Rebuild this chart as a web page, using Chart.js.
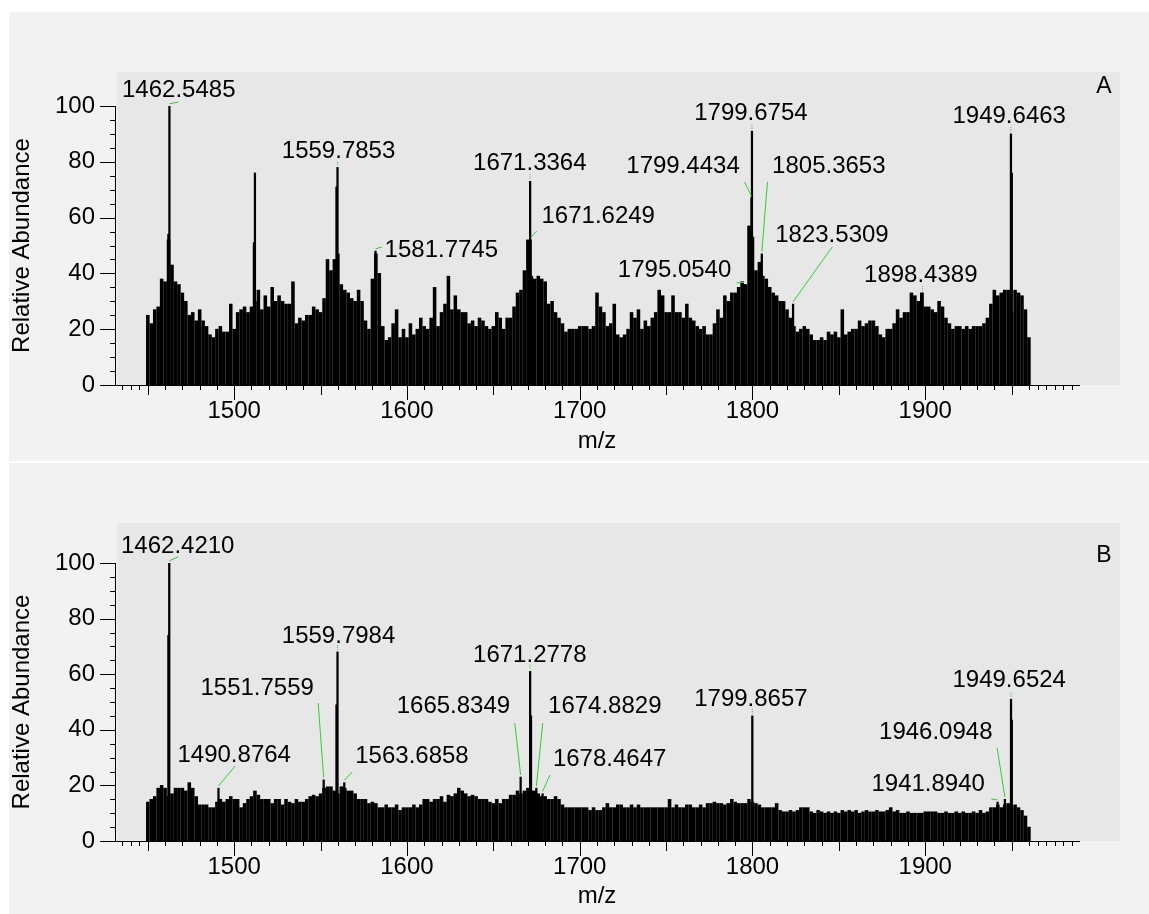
<!DOCTYPE html>
<html>
<head>
<meta charset="utf-8">
<title>Mass spectra A / B</title>
<script src="https://cdn.jsdelivr.net/npm/chart.js@4.4.1/dist/chart.umd.min.js"></script>
<style>
  html, body { margin: 0; padding: 0; background: #fff; }
  body { width: 1149px; height: 914px; position: relative; overflow: hidden; }
  .panel { position: absolute; left: 9px; width: 1140px; background: #f2f2f2; }
  #panelA { top: 12px; height: 449px; }
  #panelB { top: 463px; height: 451px; }
  canvas { display: block; }
</style>
</head>
<body>
<div class="panel" id="panelA"><canvas id="chartA" width="1140" height="449"></canvas></div>
<div class="panel" id="panelB"><canvas id="chartB" width="1140" height="451"></canvas></div>
<script>
// profile sticks: one value every MZ_STEP from MZ_START
const MZ_START = 1450;
const MZ_STEP = 2;
const X_MIN = 1431;
const X_MAX = 1989;
const xTickLabels = [1500, 1600, 1700, 1800, 1900];
const yTickLabels = [0, 20, 40, 60, 80, 100];

// Spectrum A
const profileA = [
  25, 22, 27, 28, 38, 37, 52, 43, 37, 36,
  33, 30, 25, 26, 23, 27, 23, 21, 18, 17,
  20, 21, 19, 19, 29, 20, 26, 27, 28, 26,
  28, 30, 34, 27, 32, 28, 35, 30, 32, 30,
  29, 29, 37, 22, 24, 23, 25, 25, 28, 27,
  26, 31, 45, 41, 45, 47, 36, 34, 33, 31,
  30, 34, 30, 23, 20, 38, 47, 40, 21, 16,
  17, 22, 27, 17, 20, 17, 22, 18, 20, 24,
  21, 20, 24, 35, 21, 26, 29, 39, 27, 32,
  27, 26, 26, 22, 23, 21, 24, 23, 21, 20,
  21, 26, 24, 20, 24, 24, 28, 33, 34, 41,
  52, 39, 38, 39, 38, 37, 29, 30, 26, 24,
  22, 19, 20, 20, 20, 21, 21, 21, 20, 21,
  33, 28, 26, 21, 22, 29, 18, 17, 18, 20,
  26, 24, 27, 20, 23, 21, 24, 26, 34, 32,
  26, 26, 32, 26, 26, 24, 29, 24, 23, 21,
  20, 21, 18, 18, 22, 27, 24, 32, 30, 33,
  33, 35, 37, 36, 57, 53, 41, 44, 39, 38,
  35, 33, 32, 30, 30, 27, 24, 21, 19, 20,
  21, 20, 18, 16, 16, 17, 16, 19, 18, 19,
  17, 27, 18, 19, 20, 20, 23, 21, 22, 23,
  23, 21, 18, 17, 20, 20, 22, 27, 24, 26,
  26, 33, 32, 30, 33, 28, 28, 27, 26, 30,
  28, 24, 22, 20, 21, 21, 20, 21, 20, 21,
  21, 21, 22, 24, 29, 34, 32, 33, 34, 34,
  26, 34, 33, 32, 27, 17
];
const peakMzA  = [1461.9, 1462.5, 1511.4, 1512.0, 1559.2, 1559.8, 1581.8, 1671.3, 1671.6,
                  1795.1, 1799.4, 1799.7, 1805.4, 1823.5, 1898.4, 1949.6, 1950.1];
const peakIntA = [54, 100, 51, 76, 71, 78, 48, 73, 52, 36, 67, 91, 47, 29, 33, 90, 76];
const labelsA = [
  ['1462.5485', 1462.5, 100], ['1559.7853', 1559.8, 78], ['1581.7745', 1581.8, 48],
  ['1671.3364', 1671.3, 73], ['1671.6249', 1671.6, 52], ['1795.0540', 1795.1, 36],
  ['1799.4434', 1799.4, 67], ['1799.6754', 1799.7, 91], ['1805.3653', 1805.4, 47],
  ['1823.5309', 1823.5, 29], ['1898.4389', 1898.4, 33], ['1949.6463', 1949.6, 90]
];

// Spectrum B
const profileB = [
  14, 15, 16, 19, 20, 19, 16, 17, 19, 19,
  19, 18, 21, 19, 16, 13, 13, 13, 12, 12,
  14, 15, 14, 15, 16, 15, 15, 12, 13.5, 15,
  16, 18, 16.5, 15, 15, 15, 13.5, 15, 15, 13,
  15, 14, 13.5, 15, 14, 14, 15, 16, 16.5, 16,
  17, 19, 19.5, 19.5, 18, 17, 19.5, 19, 18, 18,
  17, 15, 15, 15, 13.5, 14, 13.5, 12, 12, 13,
  12, 12, 13, 11, 12, 12, 12, 13, 12, 13,
  15, 15, 14, 15, 15, 16, 14, 16.5, 16, 17,
  19, 18, 17, 16, 16.5, 16, 15, 15, 15, 14,
  13.5, 15, 13.5, 15, 15, 16.5, 16.5, 18, 17, 18,
  19, 18, 18, 17, 16, 16, 15, 15, 16, 15,
  13, 12, 12, 12, 12, 12, 12, 12, 11, 12,
  11, 11, 12, 13.5, 12, 12, 13, 13, 12, 12,
  13, 12, 13, 12, 12, 12, 12, 12, 12, 12,
  12, 15, 12, 13, 12, 12, 13, 13, 12, 12,
  13, 12, 13.5, 13.5, 14, 13.5, 13.5, 13, 13.5, 15,
  14, 13.5, 13.5, 13.5, 15, 14, 13.5, 13, 12, 12,
  12, 12, 13.5, 11, 10.5, 10.5, 11, 10.5, 11, 12,
  12, 12, 10.5, 10, 11, 10.5, 10, 10.5, 10, 10.5,
  10, 11, 10.5, 11, 10.5, 11, 10, 10.5, 11, 10.5,
  10.5, 11, 10.5, 10.5, 11, 12, 10.5, 11, 10, 10,
  10.5, 10, 10, 10, 10, 10.5, 10.5, 10.5, 10.5, 10,
  10, 10.5, 10, 10, 10.5, 10, 10.5, 10, 10, 10.5,
  10, 11, 10, 10.5, 12, 12, 13, 12, 13, 13.5,
  12, 13, 12, 11, 9, 5
];
const peakMzB  = [1461.9, 1462.4, 1490.9, 1551.8, 1559.2, 1559.8, 1563.7, 1665.8, 1671.3,
                  1671.8, 1674.9, 1678.5, 1799.9, 1941.9, 1946.1, 1949.65, 1950.1];
const peakIntB = [74, 100, 19, 22, 49, 68, 21, 23, 61, 45, 19, 17, 45, 14, 15, 51, 43.5];
const labelsB = [
  ['1462.4210', 1462.4, 100], ['1490.8764', 1490.9, 19], ['1551.7559', 1551.8, 22],
  ['1559.7984', 1559.8, 68], ['1563.6858', 1563.7, 21], ['1665.8349', 1665.8, 23],
  ['1671.2778', 1671.3, 61], ['1674.8829', 1674.9, 19], ['1678.4647', 1678.5, 17],
  ['1799.8657', 1799.9, 45], ['1949.6524', 1949.65, 51], ['1946.0948', 1946.1, 15],
  ['1941.8940', 1941.9, 14]
];

// label placement in axis units: [text x, text y, leader start x, leader start y]
// (null leader x = short tick straight above the peak)
const layoutA = [
  [1467.9, 105.7, 1467.6, 101.4], [1560.4, 83.9, null, 80], [1619.9, 48.4, 1585.5, 49.5],
  [1671.1, 79.4, null, 75.5], [1710.7, 60.6, 1675.1, 55.2], [1754.9, 41, 1790.8, 36.6],
  [1759.8, 78.3, 1795.4, 72.8], [1799.1, 97.3, null, 93.5], [1844.2, 78.5, 1808.7, 72.8],
  [1846, 53.8, 1846.2, 49.5], [1897.4, 39.4, null, 35.5], [1948.6, 96.2, null, 92.5]
];
const layoutB = [
  [1467.3, 106.1, 1467.6, 102.2], [1500, 30.8, 1500.6, 27], [1513.3, 54.9, 1548.6, 49.6],
  [1560.4, 73.6, null, 70.5], [1602.9, 30.4, 1568.2, 24.8], [1626.9, 48.4, 1662.4, 42.4],
  [1671.1, 66.9, null, 63.5], [1714.5, 48.4, 1678.6, 42.4], [1717.3, 29.5, 1682.7, 23.7],
  [1799.1, 51.1, null, 47.5], [1948.6, 57.9, null, 53.5], [1906.1, 39.2, 1941.6, 33.5],
  [1901.7, 20.5, 1938.2, 15.1]
];

const FONT = '"Liberation Sans", Arial, sans-serif';
const GREEN = '#2bd12b';

// plot background, tick marks, peak labels, panel letter
const spectrumDecor = {
  id: 'spectrumDecor',
  beforeDraw(chart, args, opts) {
    const { ctx, chartArea: a } = chart;
    ctx.save();
    ctx.fillStyle = '#e7e7e7';
    ctx.fillRect(a.left + 2, opts.plotTop, a.right + 41 - a.left - 2, a.bottom - opts.plotTop);
    ctx.restore();
  },
  afterDraw(chart, args, opts) {
    const { ctx, chartArea: a } = chart;
    const xs = chart.scales.x, ys = chart.scales.y;
    ctx.save();
    ctx.strokeStyle = '#000';
    ctx.lineWidth = 1;
    ctx.beginPath();
    for (let v = 1435; v <= 1985; v += 5) {
      let len = 0;
      if (v % 100 === 0) len = 15;
      else if (v % 50 === 0) len = 10;
      else if (v < 1450 || v > 1960 || v % 10 === 0) len = 5;
      if (!len) continue;
      const px = Math.round(xs.getPixelForValue(v)) + 0.5;
      ctx.moveTo(px, a.bottom);
      ctx.lineTo(px, a.bottom + len);
    }
    for (let v = 0; v <= 100; v += 5) {
      const len = v % 20 === 0 ? 15 : 5;
      const py = Math.round(ys.getPixelForValue(v)) + 0.5;
      ctx.moveTo(a.left - len, py);
      ctx.lineTo(a.left, py);
    }
    ctx.stroke();

    // leaders
    ctx.strokeStyle = GREEN;
    opts.labels.forEach((lab, i) => {
      const [ , mz, inten] = lab;
      const [ , , ax, ay] = opts.layout[i];
      const px = xs.getPixelForValue(mz);
      const py = ys.getPixelForValue(inten + 0.8);
      const sx = ax === null ? px : xs.getPixelForValue(ax);
      const sy = ys.getPixelForValue(ay);
      ctx.setLineDash(ax === null ? [1, 1] : []);
      ctx.beginPath();
      ctx.moveTo(sx, sy);
      ctx.lineTo(px, py);
      ctx.stroke();
    });
    ctx.setLineDash([]);

    ctx.fillStyle = '#000';
    ctx.font = '24px ' + FONT;
    ctx.textAlign = 'center';
    ctx.textBaseline = 'middle';
    opts.labels.forEach((lab, i) => {
      const [lx, ly] = opts.layout[i];
      ctx.fillText(lab[0], xs.getPixelForValue(lx), ys.getPixelForValue(ly));
    });

    ctx.font = '23px ' + FONT;
    ctx.fillText(opts.letter, a.right + 25, opts.letterY);
    ctx.restore();
  }
};

function makeSpectrum(canvasId, p) {
  const profile = p.profile.map((v, i) => ({ x: MZ_START + i * MZ_STEP, y: v }));
  const sticks = p.peakMz.map((m, i) => ({ x: m, y: p.peakInt[i] }));
  return new Chart(document.getElementById(canvasId), {
    type: 'bar',
    data: {
      datasets: [
        { data: profile, backgroundColor: '#000', borderWidth: 0, barThickness: 2.9, grouped: false },
        { data: sticks, backgroundColor: '#000', borderWidth: 0, barThickness: 1.6, grouped: false }
      ]
    },
    options: {
      responsive: false,
      animation: false,
      events: [],
      layout: { padding: { left: 0, right: 70, top: p.padTop, bottom: 0 } },
      scales: {
        x: {
          type: 'linear',
          min: X_MIN,
          max: X_MAX,
          offset: false,
          grid: { display: false, drawTicks: false },
          border: { display: true, color: '#000', width: 1 },
          afterBuildTicks: s => { s.ticks = xTickLabels.map(v => ({ value: v })); },
          afterFit: s => { s.height = p.xAxisHeight; },
          ticks: { padding: 12, color: '#000', font: { family: FONT, size: 24 }, maxRotation: 0,
                   autoSkip: false, callback: v => String(v) },
          title: { display: true, text: 'm/z', color: '#000', font: { family: FONT, size: 24 },
                   padding: { top: 0, bottom: p.titlePad } }
        },
        y: {
          min: 0,
          max: 100,
          grid: { display: false, drawTicks: false },
          border: { display: true, color: '#000', width: 1 },
          afterBuildTicks: s => { s.ticks = yTickLabels.map(v => ({ value: v })); },
          afterFit: s => { s.width = 106; },
          ticks: { padding: 20, color: '#000', font: { family: FONT, size: 24 }, callback: v => String(v) },
          title: { display: true, text: 'Relative Abundance', color: '#000',
                   font: { family: FONT, size: 24, lineHeight: 1.1 }, padding: { top: 0, bottom: 0 } }
        }
      },
      plugins: {
        legend: { display: false },
        tooltip: { enabled: false },
        spectrumDecor: {
          plotTop: 60, labels: p.labels, layout: p.layout, letter: p.letter, letterY: p.letterY
        }
      }
    },
    plugins: [spectrumDecor]
  });
}

makeSpectrum('chartA', {
  profile: profileA, peakMz: peakMzA, peakInt: peakIntA, labels: labelsA, layout: layoutA,
  letter: 'A', letterY: 75, padTop: 94, xAxisHeight: 76, titlePad: 5
});
makeSpectrum('chartB', {
  profile: profileB, peakMz: peakMzB, peakInt: peakIntB, labels: labelsB, layout: layoutB,
  letter: 'B', letterY: 93, padTop: 100, xAxisHeight: 73, titlePad: 3
});
</script>
</body>
</html>
